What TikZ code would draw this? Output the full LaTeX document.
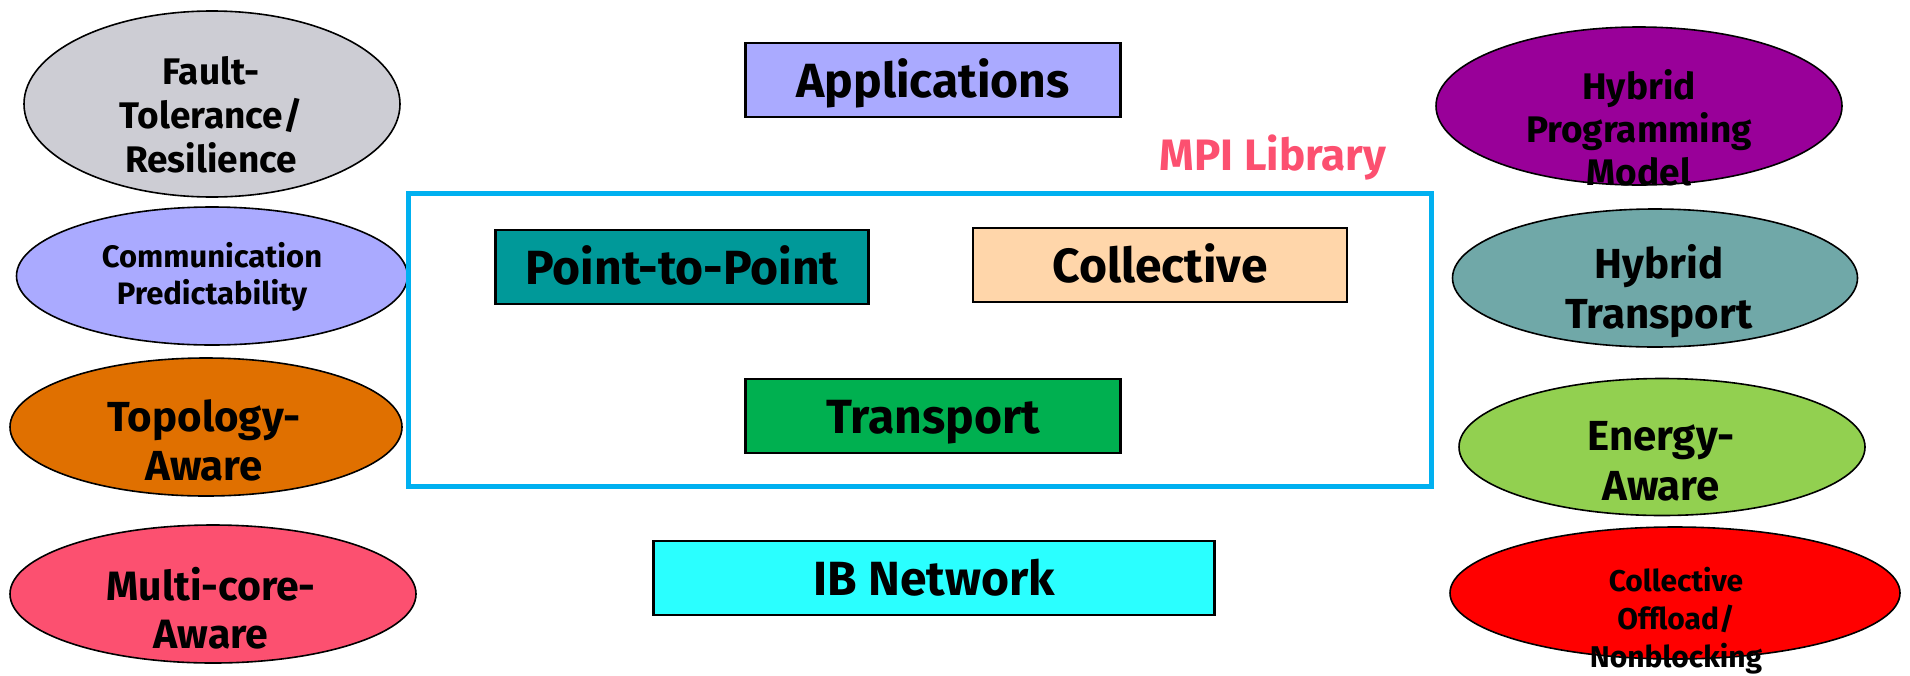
\documentclass[tikz,border=0pt]{standalone}
\usepackage{fontspec}
\setmainfont{Fira Sans}
\usetikzlibrary{shapes.geometric}
\definecolor{faultgray}{RGB}{205,205,212}
\definecolor{lavender}{RGB}{170,170,255}
\definecolor{topoorange}{RGB}{224,112,0}
\definecolor{mcpink}{RGB}{252,80,112}
\definecolor{hpmpurple}{RGB}{153,0,153}
\definecolor{htteal}{RGB}{112,168,168}
\definecolor{energygreen}{RGB}{146,208,80}
\definecolor{offred}{RGB}{255,0,0}
\definecolor{ptpteal}{RGB}{0,153,153}
\definecolor{collpeach}{RGB}{255,214,170}
\definecolor{trgreen}{RGB}{0,176,80}
\definecolor{ibcyan}{RGB}{42,255,255}
\definecolor{mpiblue}{RGB}{0,176,240}

\begin{document}
\begin{tikzpicture}[x=1pt,y=-1pt,
	oval/.style={ellipse,draw=black,line width=1.6pt,inner sep=0pt},
	layer/.style={rectangle,draw=black,line width=2.6pt,minimum height=74pt,inner sep=0pt,text height=40pt,text depth=6pt,font=\bfseries\fontsize{48}{56}\selectfont},
	txt/.style 2 args={align=center,inner sep=0pt,font=\bfseries\fontsize{#1}{#2}\selectfont}]
			%%%%% START %%%%%
			
			\useasboundingbox (0,0) rectangle (1910,675);
			
			% left column
			\node[oval, fill=faultgray, minimum width=376pt, minimum height=186pt] (ft) at (212,104) {};
			\node[txt={37}{44}] (fttext) at (211,115) {Fault-\\Tolerance/\\Resilience};
			\node[oval, fill=lavender, minimum width=391pt, minimum height=138pt] (cp) at (212,276) {};
			\node[txt={31}{37}] (cptext) at (212,277) {Communication\\Predictability};
			\node[oval, fill=topoorange, minimum width=392pt, minimum height=138pt] (ta) at (206,427) {};
			\node[txt={42}{49}] (tatext) at (204,440) {Topology-\\Aware};
			\node[oval, fill=mcpink, minimum width=406pt, minimum height=138pt] (mc) at (213,594) {};
			\node[txt={41}{48}] (mctext) at (211,608) {Multi-core-\\Aware};
			
			% middle stack
			\node[layer, fill=lavender, minimum width=375pt] (app) at (933,80) {Applications};
			\node[text=mcpink, inner sep=0pt, font=\bfseries\fontsize{44}{50}\selectfont] (mpilabel) at (1273,158) {MPI Library};
			\node[draw=mpiblue, line width=5pt, minimum width=1023pt, minimum height=293pt, inner sep=0pt] (mpi) at (919.5,339.5) {};
			\node[layer, fill=ptpteal, minimum width=373pt] (ptp) at (682,267) {Point-to-Point};
			\node[layer, fill=collpeach, minimum width=374pt] (coll) at (1160,265) {Collective};
			\node[layer, fill=trgreen, minimum width=375pt] (tr) at (933,416) {Transport};
			\node[layer, fill=ibcyan, minimum width=561pt] (ib) at (934,578) {IB Network};
			
			% right column
			\node[oval, fill=hpmpurple, minimum width=406pt, minimum height=158pt] (hpm) at (1639,106) {};
			\node[txt={37}{43}] (hpmtext) at (1639,128) {Hybrid\\Programming\\Model};
			\node[oval, fill=htteal, minimum width=405pt, minimum height=138pt] (ht) at (1655,278) {};
			\node[txt={42}{50}] (httext) at (1659,291) {Hybrid\\Transport};
			\node[oval, fill=energygreen, minimum width=406pt, minimum height=137pt] (ea) at (1662,447) {};
			\node[txt={42}{50}] (eatext) at (1661,461) {Energy-\\Aware};
			\node[oval, fill=offred, minimum width=450pt, minimum height=132pt] (co) at (1675,593) {};
			\node[txt={30}{38}] (cotext) at (1676,621) {Collective\\Offload/\\Nonblocking};
			
			%%%%% END %%%%%
\end{tikzpicture}
\end{document}
